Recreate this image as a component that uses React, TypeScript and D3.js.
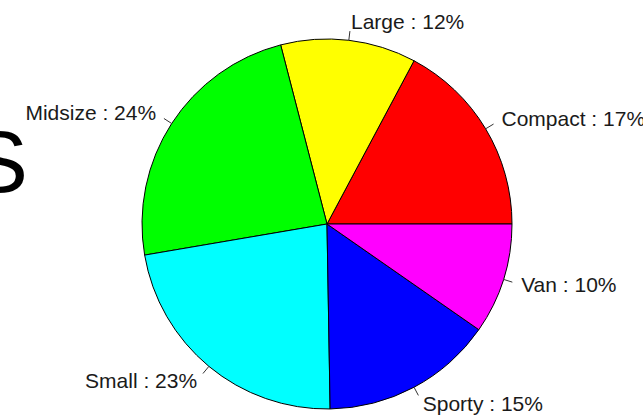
import React from "react";
import * as d3 from "d3";

const categories = ["Compact", "Large", "Midsize", "Small", "Sporty", "Van"];
const counts = [16, 11, 22, 21, 14, 9];
const colors = ["#FF0000", "#FFFF00", "#00FF00", "#00FFFF", "#0000FF", "#FF00FF"];
const titleFragment = "S";

const W = 643;
const H = 417;
const cx = 327;
const cy = 224;
const R = 185;

export default function App() {
  const total = d3.sum(counts);
  const pie = d3
    .pie<number>()
    .sort(null)
    .value((d) => d)
    .startAngle(Math.PI / 2)
    .endAngle(Math.PI / 2 - 2 * Math.PI);
  const arcs = pie(counts);
  const arcGen = d3.arc<d3.PieArcDatum<number>>().innerRadius(0).outerRadius(R);

  return (
    <svg
      width={W}
      height={H}
      style={{ position: "absolute", left: 0, top: 0, background: "#fff" }}
      fontFamily="'Liberation Sans', Arial, sans-serif"
    >
      <text x={28} y={192} fontSize={88} textAnchor="end" fill="#000">
        {titleFragment}
      </text>
      <g transform={`translate(${cx},${cy})`}>
        {arcs.map((a, i) => (
          <path key={i} d={arcGen(a) || ""} fill={colors[i]} stroke="#000" strokeWidth={1} />
        ))}
        {arcs.map((a, i) => {
          const mid = (a.startAngle + a.endAngle) / 2;
          const sx = Math.sin(mid);
          const sy = -Math.cos(mid);
          const pct = Math.round((counts[i] / total) * 100);
          return (
            <g key={"l" + i}>
              <line
                x1={R * sx}
                y1={R * sy}
                x2={1.05 * R * sx}
                y2={1.05 * R * sy}
                stroke="#333"
                strokeWidth={1}
              />
              <text
                x={1.1 * R * sx}
                y={1.1 * R * sy}
                dy="0.33em"
                fontSize={21}
                textAnchor={sx < 0 ? "end" : "start"}
                fill="#1a1a1a"
              >
                {`${categories[i]} : ${pct}%`}
              </text>
            </g>
          );
        })}
      </g>
    </svg>
  );
}
